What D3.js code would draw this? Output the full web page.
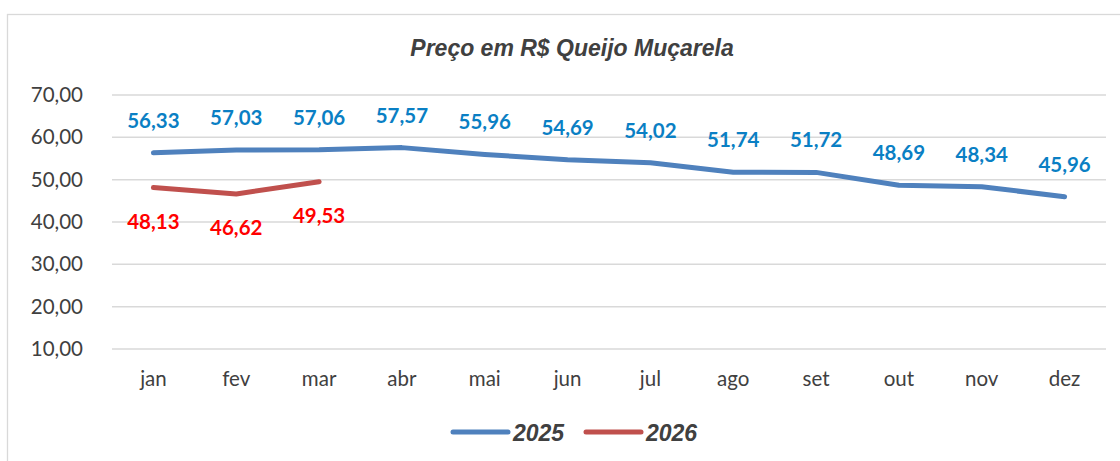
<!DOCTYPE html>
<html>
<head>
<meta charset="utf-8">
<script src="https://cdn.jsdelivr.net/npm/d3@7"></script>
<style>
  html, body { margin: 0; padding: 0; background: #fff; }
  svg { display: block; }
</style>
</head>
<body>
<div id="chart"></div>
<script>
// ── Data ────────────────────────────────────────────────────────────────
const months = ["jan","fev","mar","abr","mai","jun","jul","ago","set","out","nov","dez"];
const values2025 = [56.33,57.03,57.06,57.57,55.96,54.69,54.02,51.74,51.72,48.69,48.34,45.96];
const values2026 = [48.13,46.62,49.53];
const yTicks = [10,20,30,40,50,60,70];

// ── Palette ─────────────────────────────────────────────────────────────
const BLUE = "#4f81bd";
const RED = "#c0504d";
const BLUE_LBL = "#0a7fc4";
const RED_LBL = "#ff0000";
const GRID = "#d9d9d9";
const TXT = "#404040";
const BODY_FONT = "Lato, 'Open Sans', sans-serif";
const HEAD_FONT = "'Liberation Sans', Arial, sans-serif";

const W = 1120, H = 461;
const margin = { top: 95, right: 14, bottom: 112, left: 112 };
const fmt = v => v.toFixed(2).replace(".", ",");

const svg = d3.select("#chart").append("svg")
  .attr("width", W).attr("height", H);

// chart frame
svg.append("rect")
  .attr("x", 7.5).attr("y", 14.5)
  .attr("width", W + 10).attr("height", H + 10)
  .attr("fill", "#fff").attr("stroke", "#d9d9d9").attr("stroke-width", 1.3);

const x = d3.scaleBand()
  .domain(months)
  .range([margin.left, W - margin.right]);

const y = d3.scaleLinear()
  .domain([10, 70])
  .range([H - margin.bottom, margin.top]);

const cx = m => x(m) + x.bandwidth() / 2;

// Grid lines
svg.append("g")
  .selectAll("line").data(yTicks).enter().append("line")
  .attr("x1", margin.left).attr("x2", W - margin.right)
  .attr("y1", d => y(d)).attr("y2", d => y(d))
  .attr("stroke", GRID).attr("stroke-width", 1.5);

// Y axis labels
const yAxis = svg.append("g")
  .attr("transform", `translate(${margin.left - 29},0)`)
  .call(d3.axisLeft(y).tickValues(yTicks).tickSize(0).tickPadding(0).tickFormat(fmt));
yAxis.select(".domain").remove();
yAxis.selectAll("text")
  .attr("fill", TXT)
  .style("font-family", BODY_FONT)
  .style("font-size", "20.5px");

// X axis labels
const xAxis = svg.append("g")
  .attr("transform", `translate(0,${y(10) + 22})`)
  .call(d3.axisBottom(x).tickSize(0).tickPadding(0));
xAxis.select(".domain").remove();
xAxis.selectAll("text")
  .attr("fill", TXT)
  .style("font-family", BODY_FONT)
  .style("font-size", "20.5px");

// Lines
const line = d3.line().x((d, i) => cx(months[i])).y(d => y(d));

svg.append("path").datum(values2025)
  .attr("fill", "none").attr("stroke", BLUE).attr("stroke-width", 5)
  .attr("stroke-linecap", "round").attr("stroke-linejoin", "round")
  .attr("d", line);

svg.append("path").datum(values2026)
  .attr("fill", "none").attr("stroke", RED).attr("stroke-width", 5)
  .attr("stroke-linecap", "round").attr("stroke-linejoin", "round")
  .attr("d", line);

// Data labels
svg.append("g").selectAll("text").data(values2025).enter().append("text")
  .attr("x", (d, i) => cx(months[i]))
  .attr("y", d => y(d) - 25)
  .attr("text-anchor", "middle")
  .attr("fill", BLUE_LBL)
  .style("font-family", BODY_FONT)
  .style("font-size", "20.5px").style("font-weight", "700")
  .text(fmt);

svg.append("g").selectAll("text").data(values2026).enter().append("text")
  .attr("x", (d, i) => cx(months[i]))
  .attr("y", d => y(d) + 41)
  .attr("text-anchor", "middle")
  .attr("fill", RED_LBL)
  .style("font-family", BODY_FONT)
  .style("font-size", "20.5px").style("font-weight", "700")
  .text(fmt);

// Title
svg.append("text")
  .attr("x", 572).attr("y", 56)
  .attr("text-anchor", "middle")
  .attr("fill", TXT)
  .style("font-family", HEAD_FONT)
  .style("font-size", "23px").style("font-weight", "700").style("font-style", "italic")
  .text("Preço em R$ Queijo Muçarela");

// Legend
const legend = [
  { label: "2025", color: BLUE, x: 453 },
  { label: "2026", color: RED, x: 586 }
];
const lg = svg.append("g").selectAll("g").data(legend).enter().append("g");
lg.append("line")
  .attr("x1", d => d.x).attr("x2", d => d.x + 55)
  .attr("y1", 432).attr("y2", 432)
  .attr("stroke", d => d.color).attr("stroke-width", 5).attr("stroke-linecap", "round");
lg.append("text")
  .attr("x", d => d.x + 60).attr("y", 441)
  .attr("fill", TXT)
  .style("font-family", HEAD_FONT)
  .style("font-size", "23px").style("font-weight", "700").style("font-style", "italic")
  .text(d => d.label);
</script>
</body>
</html>
